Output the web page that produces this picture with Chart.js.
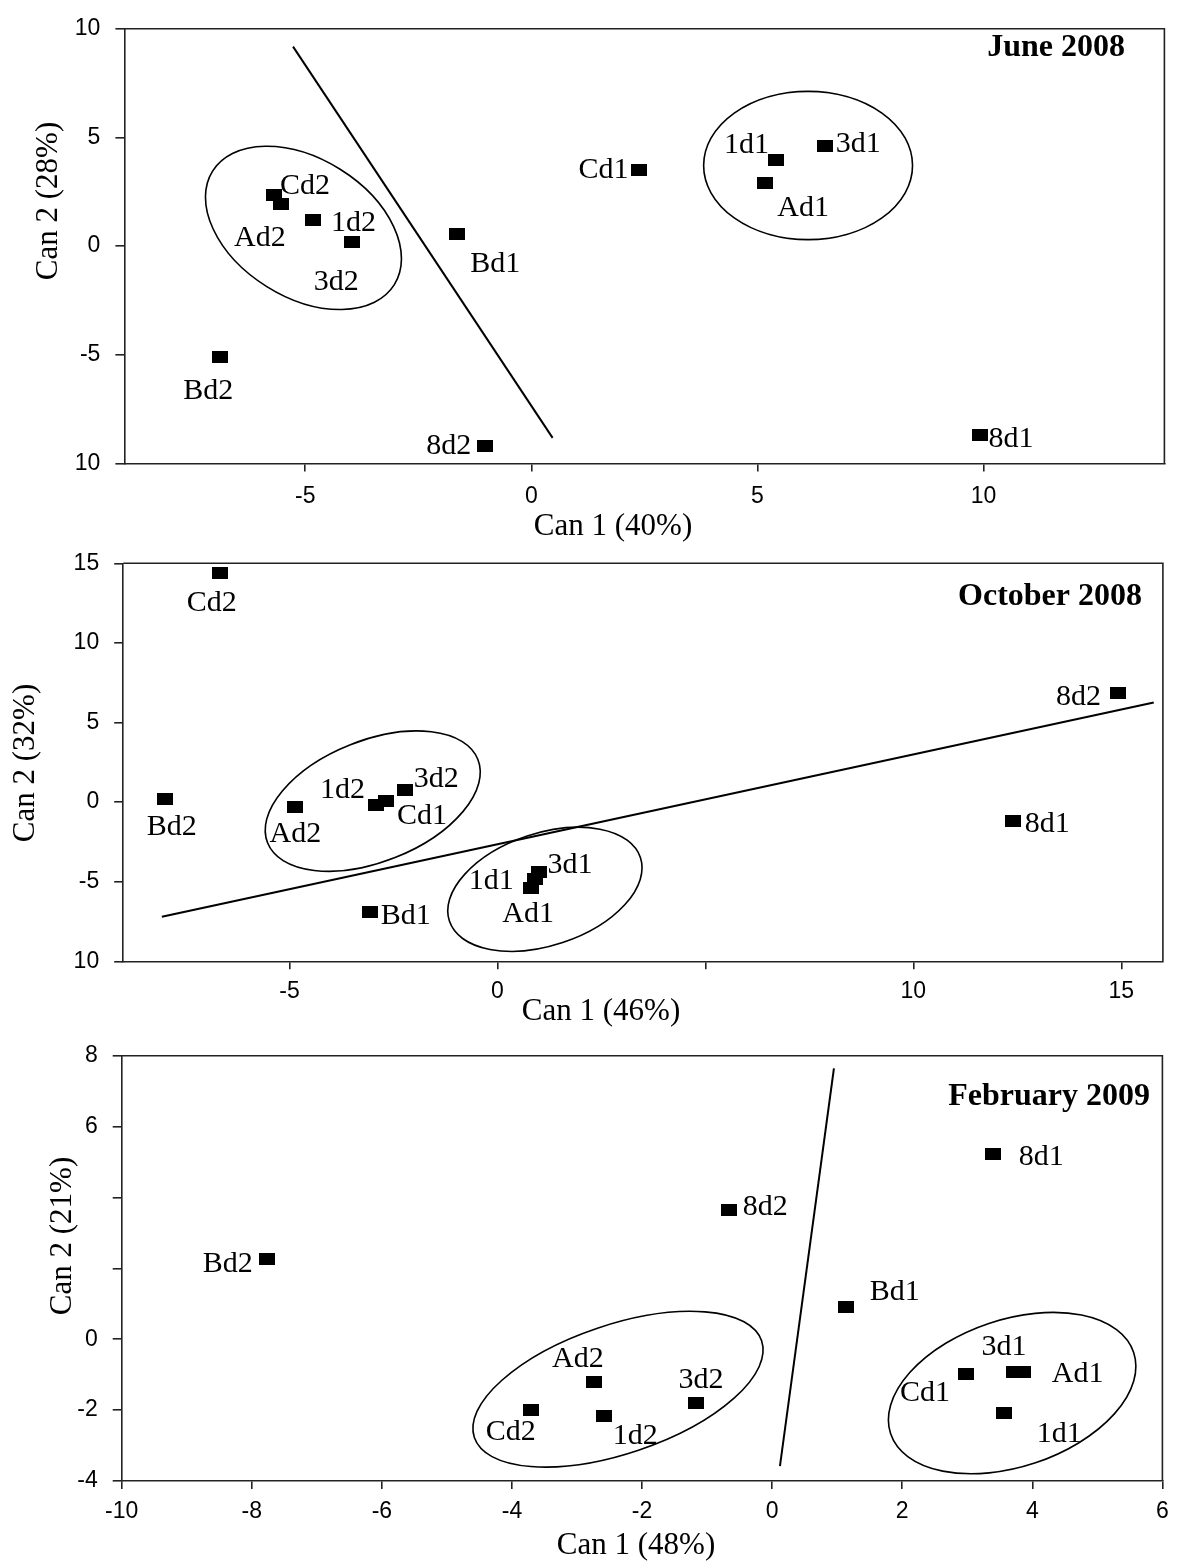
<!DOCTYPE html>
<html>
<head>
<meta charset="utf-8">
<script src="https://cdn.jsdelivr.net/npm/chart.js@4.4.1/dist/chart.umd.min.js"></script>
<style>
  html, body { margin: 0; padding: 0; background: #fff; }
  #wrap { position: relative; width: 1178px; height: 1561px; }
  canvas { position: absolute; left: 0; top: 0; }
</style>
</head>
<body>
<div id="wrap">
  <canvas id="june" width="1178" height="1561"></canvas>
  <canvas id="october" width="1178" height="1561"></canvas>
  <canvas id="february" width="1178" height="1561"></canvas>
</div>
<script>
// ---- June 2008 ----
const juneLabels = ['Cd2', 'Ad2', '1d2', '3d2', 'Bd1', 'Bd2', '8d2', 'Cd1', '1d1', 'Ad1', '3d1', '8d1'];
const juneCan1 = [-5.69, -5.54, -4.82, -3.96, -1.64, -6.88, -1.03, 2.37, 5.40, 5.17, 6.50, 9.92];
const juneCan2 = [2.34, 1.95, 1.22, 0.17, 0.58, -5.08, -9.2, 3.49, 3.95, 2.92, 4.60, -8.69];
const juneLineX = [-5.27, 0.47];
const juneLineY = [9.18, -8.82];
const juneXTicks = [-5, 0, 5, 10];
const juneXTickLabels = ['-5', '0', '5', '10'];
const juneYTicks = [-10, -5, 0, 5, 10];
const juneYTickLabels = ['10', '-5', '0', '5', '10'];

// ---- October 2008 ----
const octLabels = ['Cd2', 'Bd2', 'Ad2', '1d2', 'Cd1', '3d2', 'Bd1', '1d1', '3d1', 'Ad1', '8d2', '8d1'];
const octCan1 = [-6.68, -8.0, -4.86, -2.91, -2.68, -2.22, -3.07, 0.91, 1.0, 0.81, 14.91, 12.4];
const octCan2 = [14.39, 0.17, -0.29, -0.19, 0.06, 0.77, -6.92, -4.85, -4.41, -5.38, 6.86, -1.19];
const octLineX = [-8.07, 15.78];
const octLineY = [-7.2, 6.26];
const octXTicks = [-5, 0, 5, 10, 15];
const octXTickLabels = ['-5', '0', '', '10', '15'];
const octYTicks = [-10, -5, 0, 5, 10, 15];
const octYTickLabels = ['10', '-5', '0', '5', '10', '15'];

// ---- February 2009 ----
const febLabels = ['Bd2', 'Cd2', 'Ad2', '1d2', '3d2', '8d2', 'Bd1', '8d1', 'Cd1', '3d1', 'Ad1', '1d1'];
const febCan1 = [-7.77, -3.71, -2.74, -2.58, -1.17, -0.66, 1.13, 3.40, 2.98, 3.72, 3.85, 3.57];
const febCan2 = [2.26, -2.0, -1.22, -2.17, -1.79, 3.66, 0.91, 5.22, -0.98, -0.92, -0.92, -2.08];
const febLineX = [0.95, 0.12];
const febLineY = [7.64, -3.58];
const febXTicks = [-10, -8, -6, -4, -2, 0, 2, 4, 6];
const febXTickLabels = ['-10', '-8', '-6', '-4', '-2', '0', '2', '4', '6'];
const febYTicks = [-4, -2, 0, 2, 4, 6, 8];
const febYTickLabels = ['-4', '-2', '0', '', '', '6', '8'];

// group outlines (centre in data units, semi axes in Can 1 units, screen angle in degrees)
const juneEllipses = [
  { cx: -5.04, cy: 0.84, a: 2.37, b: 1.53, angle: 32 },
  { cx: 6.12, cy: 3.71, a: 2.31, b: 1.64, angle: 0 }
];
const octEllipses = [
  { cx: -3.0, cy: 0.06, a: 2.72, b: 1.46, angle: -21.6 },
  { cx: 1.14, cy: -5.48, a: 2.42, b: 1.35, angle: -18.4 }
];
const febEllipses = [
  { cx: -2.37, cy: -1.41, a: 2.33, b: 0.99, angle: -18.6 },
  { cx: 3.69, cy: -1.52, a: 1.97, b: 1.13, angle: -18.5 }
];

// where each point label sits relative to its marker (px)
const juneLabelOffsets = [[31, -9], [-21, 34], [40, 3], [-16, 40], [38, 31], [-12, 35], [-36, 0], [-35, 0], [-29, -15], [38, 25], [33, -2], [31, 4]];
const octLabelOffsets = [[-8, 30], [7, 28], [0, 27], [-34, -15], [36, 15], [31, -11], [36, 4], [-44, 2], [31, -7], [-3, 26], [-39, 4], [34, 3]];
const febLabelOffsets = [[-39, 5], [-20, 22], [-16, -23], [31, 20], [5, -23], [36, -2], [49, -15], [48, 3], [-41, 19], [-10, -25], [55, 2], [55, 21]];

const SERIF = '"Liberation Serif", "Times New Roman", serif';
const SANS = '"Liberation Sans", Arial, sans-serif';

const marker = document.createElement('canvas');
marker.width = 16;
marker.height = 12;
const mctx = marker.getContext('2d');
mctx.fillStyle = '#000';
mctx.fillRect(0, 0, 16, 12);

function makeDecor(cfg) {
  return {
    id: 'decor',
    afterDatasetsDraw(chart) {
      const ctx = chart.ctx;
      const xs = chart.scales.x, ys = chart.scales.y;
      const unit = Math.abs(xs.getPixelForValue(1) - xs.getPixelForValue(0));
      const area = chart.chartArea;
      ctx.save();

      // top and right edges of the frame
      ctx.strokeStyle = '#222';
      ctx.lineWidth = 1.6;
      ctx.beginPath();
      ctx.moveTo(area.left, area.top);
      ctx.lineTo(area.right, area.top);
      ctx.lineTo(area.right, area.bottom);
      ctx.stroke();

      // group ellipses
      ctx.strokeStyle = '#000';
      ctx.lineWidth = 1.6;
      cfg.ellipses.forEach(e => {
        ctx.beginPath();
        ctx.ellipse(xs.getPixelForValue(e.cx), ys.getPixelForValue(e.cy),
          e.a * unit, e.b * unit, e.angle * Math.PI / 180, 0, Math.PI * 2);
        ctx.stroke();
      });

      // point labels
      ctx.fillStyle = '#000';
      ctx.font = '30px ' + SERIF;
      ctx.textAlign = 'center';
      ctx.textBaseline = 'middle';
      chart.getDatasetMeta(0).data.forEach((pt, i) => {
        const off = cfg.offsets[i];
        ctx.fillText(cfg.labels[i], pt.x + off[0], pt.y + off[1]);
      });

      // panel title
      ctx.font = 'bold 32px ' + SERIF;
      ctx.textAlign = 'right';
      ctx.fillText(cfg.title.text, cfg.title.x, cfg.title.y);

      // axis titles
      ctx.font = '31px ' + SERIF;
      ctx.textAlign = 'center';
      ctx.fillText(cfg.xTitle.text, cfg.xTitle.x, cfg.xTitle.y);
      ctx.translate(cfg.yTitle.x, cfg.yTitle.y);
      ctx.rotate(-Math.PI / 2);
      ctx.fillText(cfg.yTitle.text, 0, 0);
      ctx.restore();
    }
  };
}

function axis(min, max, ticks, tickLabels) {
  return {
    type: 'linear',
    min: min,
    max: max,
    afterBuildTicks: s => { s.ticks = ticks.map(v => ({ value: v })); },
    grid: { display: true, drawOnChartArea: false, drawTicks: true, color: '#222', lineWidth: 1.6 },
    border: { display: true, color: '#222', width: 1.6 },
    ticks: {
      autoSkip: false,
      maxRotation: 0,
      color: '#000',
      font: { family: SANS, size: 23 },
      callback: (v, i) => tickLabels[i]
    }
  };
}

function buildPanel(p) {
  const xScale = axis(p.xMin, p.xMax, p.xTicks, p.xTickLabels);
  xScale.grid.tickLength = 8;
  xScale.ticks.padding = p.xPad;
  xScale.afterFit = s => { s.height = 60; };

  const yScale = axis(p.yMin, p.yMax, p.yTicks, p.yTickLabels);
  yScale.grid.tickLength = 9;
  yScale.ticks.padding = 15;
  yScale.afterFit = s => { s.width = p.left; };

  new Chart(document.getElementById(p.id), {
    type: 'scatter',
    data: {
      datasets: [
        {
          data: p.can1.map((v, i) => ({ x: v, y: p.can2[i] })),
          pointStyle: marker,
          pointRadius: 8,
          pointHoverRadius: 8
        },
        {
          data: p.lineX.map((v, i) => ({ x: v, y: p.lineY[i] })),
          showLine: true,
          borderColor: '#000',
          borderWidth: 2,
          pointRadius: 0,
          fill: false
        }
      ]
    },
    options: {
      responsive: false,
      animation: false,
      events: [],
      layout: { padding: { top: p.top, left: 0, right: 1178 - p.right, bottom: 1561 - p.bottom - 60 } },
      plugins: { legend: { display: false }, tooltip: { enabled: false } },
      scales: { x: xScale, y: yScale }
    },
    plugins: [makeDecor(p.decor)]
  });
}

function buildAll() {
  buildPanel({
    id: 'june', left: 124.4, right: 1164.4, top: 16.2, bottom: 463.5, xPad: 11.7,
    xMin: -9, xMax: 14, yMin: -10, yMax: 10,
    xTicks: juneXTicks, xTickLabels: juneXTickLabels, yTicks: juneYTicks, yTickLabels: juneYTickLabels,
    can1: juneCan1, can2: juneCan2, lineX: juneLineX, lineY: juneLineY,
    decor: {
      labels: juneLabels, offsets: juneLabelOffsets, ellipses: juneEllipses,
      title: { text: 'June 2008', x: 1125, y: 48 },
      xTitle: { text: 'Can 1 (40%)', x: 613, y: 527 },
      yTitle: { text: 'Can 2 (28%)', x: 49, y: 201 }
    }
  });
  buildPanel({
    id: 'october', left: 123.2, right: 1162.9, top: 563.3, bottom: 961.3, xPad: 8.6,
    xMin: -9, xMax: 16, yMin: -10, yMax: 15,
    xTicks: octXTicks, xTickLabels: octXTickLabels, yTicks: octYTicks, yTickLabels: octYTickLabels,
    can1: octCan1, can2: octCan2, lineX: octLineX, lineY: octLineY,
    decor: {
      labels: octLabels, offsets: octLabelOffsets, ellipses: octEllipses,
      title: { text: 'October 2008', x: 1142, y: 597 },
      xTitle: { text: 'Can 1 (46%)', x: 601, y: 1012 },
      yTitle: { text: 'Can 2 (32%)', x: 26, y: 763 }
    }
  });
  buildPanel({
    id: 'february', left: 121.7, right: 1168.6, top: 1055.7, bottom: 1481, xPad: 9.2,
    xMin: -10, xMax: 6, yMin: -4, yMax: 8,
    xTicks: febXTicks, xTickLabels: febXTickLabels, yTicks: febYTicks, yTickLabels: febYTickLabels,
    can1: febCan1, can2: febCan2, lineX: febLineX, lineY: febLineY,
    decor: {
      labels: febLabels, offsets: febLabelOffsets, ellipses: febEllipses,
      title: { text: 'February 2009', x: 1150, y: 1097 },
      xTitle: { text: 'Can 1 (48%)', x: 636, y: 1546 },
      yTitle: { text: 'Can 2 (21%)', x: 63, y: 1236 }
    }
  });
}

Promise.all([
  document.fonts.load('30px "Liberation Serif"'),
  document.fonts.load('bold 32px "Liberation Serif"'),
  document.fonts.load('23px "Liberation Sans"')
]).then(buildAll, buildAll);
</script>
</body>
</html>
